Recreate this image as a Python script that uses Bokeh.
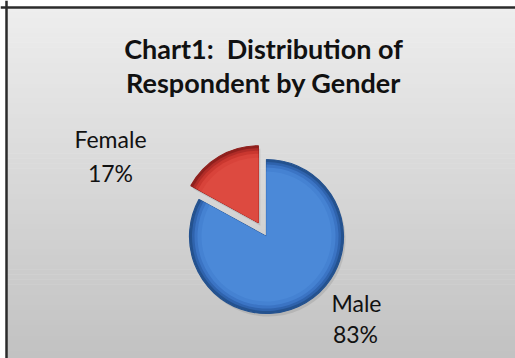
import numpy as np
from bokeh.plotting import figure
from bokeh.models import Span, Range1d
from bokeh.core.properties import value
from bokeh.embed import file_html
from bokeh.resources import INLINE

# ---- data ----
categories = ["Male", "Female"]
shares = [83, 17]
title_lines = ["Chart1:\u00a0 Distribution of", "Respondent by Gender"]

W, H = 515, 358
p = figure(width=W, height=H, output_backend="svg", toolbar_location=None,
           x_range=Range1d(0, W), y_range=Range1d(0, H), min_border=0,
           match_aspect=False)
p.axis.visible = False
p.grid.visible = False
p.outline_line_color = None
p.background_fill_color = "#ffffff"
p.border_fill_color = "#ffffff"

# background gradient (decoration, horizontal bands)
nb = 70
top_c = np.array([238, 238, 238]); bot_c = np.array([194, 194, 194])
edges = np.linspace(-2, H - 7, nb + 1)
cols = []
for i in range(nb):
    t = i / (nb - 1)
    c = (bot_c * (1 - t) + top_c * t).astype(int)
    cols.append("#%02x%02x%02x" % tuple(c))
p.quad(left=6, right=W + 5, bottom=edges[:-1], top=edges[1:] + 0.6,
       fill_color=cols, line_color=None)

# frame lines (top & left)
p.add_layout(Span(location=6, dimension="height", line_color="#2b2b2b", line_width=2.5))
p.add_layout(Span(location=H - 7, dimension="width", line_color="#2b2b2b", line_width=2.5))

# ---- pie ----
cx, cy, R = 266, 122, 77
explode = [0, 16]
fracs = np.array(shares) / sum(shares)
f_start = np.pi / 2
f_end = f_start + fracs[1] * 2 * np.pi
m_start, m_end = f_end, f_start + 2 * np.pi
starts = [m_start, f_start]
ends = [m_end, f_end]
shades = {
    "Male": ["#24528f", "#2f63ad", "#3b74c4", "#4582d2", "#4b89d8"],
    "Female": ["#8f201d", "#b02c28", "#c9372f", "#d8433a", "#dd4a40"],
}
rad_steps = [0, 2.5, 5, 8, 12]
for cat, st, en, ex in zip(categories, starts, ends, explode):
    mid = (st + en) / 2
    ox = cx + ex * np.cos(mid)
    oy = cy + ex * np.sin(mid)
    p.wedge(x=ox + 2, y=oy - 3, radius=R, start_angle=st, end_angle=en,
            fill_color="#808080", fill_alpha=0.25, line_color=None)
    for k, (col, dr) in enumerate(zip(shades[cat], rad_steps)):
        p.wedge(x=ox, y=oy, radius=R - dr, start_angle=st, end_angle=en,
                fill_color=col, line_color=shades[cat][0] if k == 0 else None,
                line_width=1.2)

# ---- labels ----
lab_pos = {"Male": [(356, 358 - 302), (355, 358 - 333)],
           "Female": [(110, 358 - 138), (110, 358 - 172)]}
for cat, sh in zip(categories, shares):
    lines = [cat, f"{sh}%"]
    for (x, y), txt in zip(lab_pos[cat], lines):
        p.text(x=[x], y=[y], text=[txt], text_align="center", text_baseline="middle",
               text_font=value("Lato"), text_font_size="23px", text_color="#111111")

# ---- title ----
p.text(x=[263, 263], y=[358 - 48, 358 - 82], text=title_lines, text_align="center",
       text_baseline="middle", text_font=value("Lato"), text_font_style="bold",
       text_font_size="27px", text_color="#111111")

open("out.html", "w").write(file_html(p, INLINE))
